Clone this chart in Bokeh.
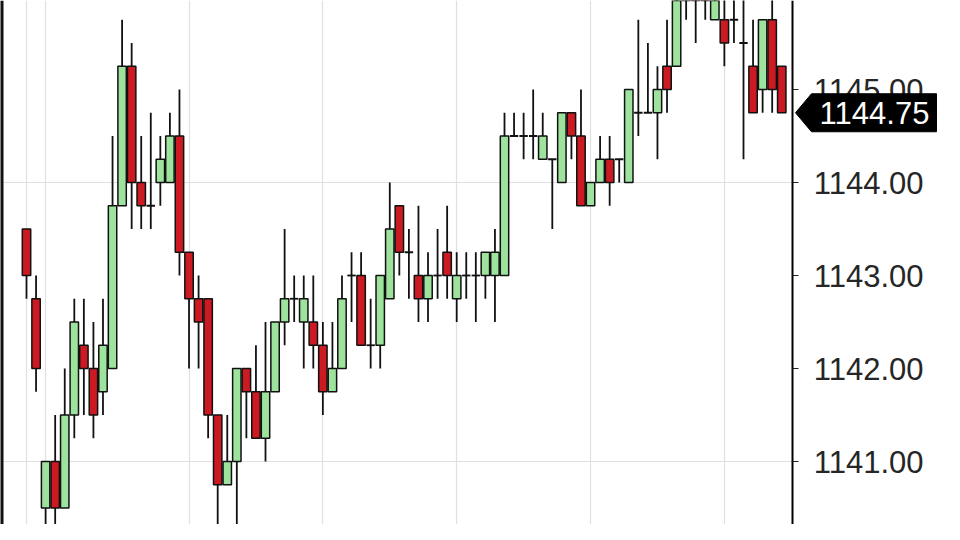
from bokeh.plotting import figure
from bokeh.models import ColumnDataSource, FixedTicker, PrintfTickFormatter, Span
from bokeh.core.properties import value
from bokeh.embed import file_html
from bokeh.resources import INLINE

# OHLC data (one bar per index)
opens = [1143.50, 1142.75, 1140.50, 1141.00, 1140.50, 1141.50, 1142.25, 1142.00, 1141.75, 1142.00,
         1143.75, 1145.25, 1144.00, 1143.75, 1144.00, 1144.00, 1144.50, 1143.25, 1142.75, 1142.75,
         1141.50, 1140.75, 1141.00, 1142.00, 1141.75, 1141.25, 1141.75, 1142.50, 1142.75, 1142.50,
         1142.50, 1142.25, 1141.75, 1142.00, 1143.00, 1143.00, 1142.25, 1142.25, 1142.75, 1143.75,
         1143.25, 1143.00, 1142.75, 1143.00, 1143.25, 1142.75, 1143.00, 1143.00, 1143.00, 1143.00,
         1143.00, 1144.50, 1144.50, 1144.50, 1144.25, 1144.25, 1144.00, 1144.75, 1144.50, 1143.75,
         1144.00, 1144.25, 1144.25, 1144.00, 1144.75, 1144.75, 1144.75, 1145.25, 1145.25, 1146.00,
         1146.25, 1146.25, 1145.75, 1145.75, 1145.75, 1145.50, 1145.25, 1145.00, 1145.75, 1145.25]
highs = [1143.50, 1143.00, 1141.00, 1141.50, 1142.00, 1142.75, 1142.75, 1142.50, 1142.75, 1144.50,
         1145.75, 1145.50, 1144.50, 1144.75, 1144.50, 1144.75, 1145.00, 1143.25, 1143.00, 1142.75,
         1141.50, 1141.50, 1142.00, 1142.00, 1142.25, 1142.50, 1142.50, 1143.50, 1143.00, 1143.00,
         1143.00, 1142.50, 1142.50, 1143.00, 1143.25, 1143.25, 1142.75, 1143.00, 1144.00, 1143.75,
         1143.50, 1143.75, 1143.25, 1143.50, 1143.75, 1143.25, 1143.25, 1143.25, 1143.25, 1143.50,
         1144.75, 1144.75, 1144.75, 1145.00, 1144.75, 1144.25, 1144.75, 1144.75, 1145.00, 1144.00,
         1144.50, 1144.50, 1144.25, 1145.00, 1145.75, 1145.50, 1145.25, 1145.75, 1146.25, 1146.50,
         1146.50, 1146.50, 1146.50, 1146.25, 1146.00, 1146.00, 1145.75, 1145.75, 1146.00, 1145.25]
lows = [1142.75, 1141.75, 1140.00, 1140.25, 1140.50, 1141.25, 1141.50, 1141.25, 1141.50, 1142.00,
        1143.75, 1143.50, 1143.50, 1143.50, 1143.75, 1144.00, 1143.00, 1142.00, 1142.00, 1141.25,
        1140.25, 1140.75, 1140.00, 1141.25, 1141.25, 1141.00, 1141.75, 1142.25, 1142.50, 1142.00,
        1142.00, 1141.50, 1141.75, 1142.00, 1142.50, 1142.25, 1142.00, 1142.00, 1142.75, 1143.00,
        1142.75, 1142.50, 1142.50, 1142.75, 1142.75, 1142.50, 1142.75, 1142.50, 1142.75, 1142.50,
        1143.00, 1144.50, 1144.25, 1144.25, 1144.25, 1143.50, 1144.00, 1144.25, 1143.75, 1143.75,
        1144.00, 1143.75, 1144.00, 1144.00, 1144.50, 1144.75, 1144.25, 1144.75, 1145.25, 1145.75,
        1145.50, 1145.75, 1145.75, 1145.25, 1145.50, 1144.25, 1144.75, 1144.75, 1144.75, 1144.75]
closes = [1143.00, 1142.00, 1141.00, 1140.50, 1141.50, 1142.50, 1142.00, 1141.50, 1142.25, 1143.75,
          1145.25, 1144.00, 1143.75, 1143.75, 1144.25, 1144.50, 1143.25, 1142.75, 1142.50, 1141.50,
          1140.75, 1141.00, 1142.00, 1141.75, 1141.25, 1141.75, 1142.50, 1142.75, 1142.75, 1142.75,
          1142.25, 1141.75, 1142.00, 1142.75, 1143.00, 1142.25, 1142.25, 1143.00, 1143.50, 1143.25,
          1143.25, 1142.75, 1143.00, 1143.00, 1143.00, 1143.00, 1143.00, 1143.00, 1143.25, 1143.25,
          1144.50, 1144.50, 1144.50, 1144.50, 1144.50, 1144.25, 1144.75, 1144.50, 1143.75, 1144.00,
          1144.25, 1144.00, 1144.25, 1145.00, 1144.75, 1144.75, 1145.00, 1145.00, 1146.00, 1146.25,
          1146.00, 1146.00, 1146.25, 1145.50, 1145.75, 1145.50, 1144.75, 1145.75, 1145.00, 1144.75]

y_ticks = [1140, 1141, 1142, 1143, 1144, 1145, 1146]
y_grid = [1141, 1144]
x_grid = [0, 2, 17, 31, 45, 59, 73]

GREEN = "#9de29d"
RED = "#cc1a22"
INK = "#111111"
W = 0.88

PX = 9.56                 # pixels per bar
X0 = -2.7197              # data value at the left edge of the frame
X1 = X0 + 944 / PX        # frame spans the whole figure width
X_AXIS = X0 + 792 / PX    # where the price axis is drawn
PPY = 93.0                # pixels per price point

idx = list(range(len(opens)))
up = [i for i in idx if closes[i] > opens[i]]
dn = [i for i in idx if closes[i] < opens[i]]
dj = [i for i in idx if closes[i] == opens[i]]

wicks = ColumnDataSource(dict(x=idx, lo=lows, hi=highs))
up_src = ColumnDataSource(dict(x=up, top=[closes[i] for i in up], bottom=[opens[i] for i in up]))
dn_src = ColumnDataSource(dict(x=dn, top=[opens[i] for i in dn], bottom=[closes[i] for i in dn]))
dj_src = ColumnDataSource(dict(x0=[i - W / 2 for i in dj], x1=[i + W / 2 for i in dj], y=[closes[i] for i in dj]))

p = figure(width=944, height=524, x_range=(X0, X1), y_range=(1140.3226, 1145.957),
           x_axis_location=None, y_axis_location="left",
           toolbar_location=None, output_backend="svg",
           min_border_left=0, min_border_right=0, min_border_top=0, min_border_bottom=0)
p.outline_line_color = None
p.background_fill_color = "white"
p.border_fill_color = "white"

p.xgrid.ticker = FixedTicker(ticks=x_grid)
p.xgrid.grid_line_color = "#e0e0e0"
p.xgrid.grid_line_width = 1.2
p.ygrid.visible = False
# horizontal grid lines stop at the price axis
p.segment(x0=[X0] * len(y_grid), x1=[X_AXIS] * len(y_grid), y0=y_grid, y1=y_grid,
          line_color="#e0e0e0", line_width=1.2, level="underlay")

# price axis drawn at the right end of the bars, labels to its right
ax = p.yaxis[0]
ax.fixed_location = X_AXIS
ax.ticker = FixedTicker(ticks=y_ticks)
ax.formatter = PrintfTickFormatter(format="%.2f")
ax.major_label_text_font = "Liberation Sans"
ax.major_label_text_font_size = "31px"
ax.major_label_text_color = "#262626"
ax.major_label_standoff = -131
ax.major_tick_in = 6
ax.major_tick_out = 0
ax.major_tick_line_color = "#222222"
ax.minor_tick_line_color = None
ax.axis_line_color = "black"
ax.axis_line_width = 2

# dark left border of the chart frame
p.add_layout(Span(location=X0, dimension="height", line_color=INK, line_width=6))

p.segment(x0="x", y0="lo", x1="x", y1="hi", source=wicks, line_color=INK, line_width=1.8)
p.vbar(x="x", width=W, top="top", bottom="bottom", source=up_src,
       fill_color=GREEN, line_color=INK, line_width=1.5)
p.vbar(x="x", width=W, top="top", bottom="bottom", source=dn_src,
       fill_color=RED, line_color=INK, line_width=1.5)
p.segment(x0="x0", y0="y", x1="x1", y1="y", source=dj_src, line_color=INK, line_width=1.8)

# last-price tag on the axis
last = closes[-1]
half = 19 / PPY
tip = X0 + 795 / PX
b_left = X0 + 811 / PX
b_right = X0 + 936 / PX
p.patch(x=[tip, b_left, b_right, b_right, b_left],
        y=[last, last + half, last + half, last - half, last - half],
        fill_color="black", line_color="black", level="overlay")
p.text(x=[X0 + 874 / PX], y=[last], text=[f"{last:.2f}"], text_align="center",
       text_baseline="middle", text_color="white", text_font=value("Liberation Sans"),
       text_font_size="31px", level="overlay")

open("out.html", "w").write(file_html(p, INLINE))
